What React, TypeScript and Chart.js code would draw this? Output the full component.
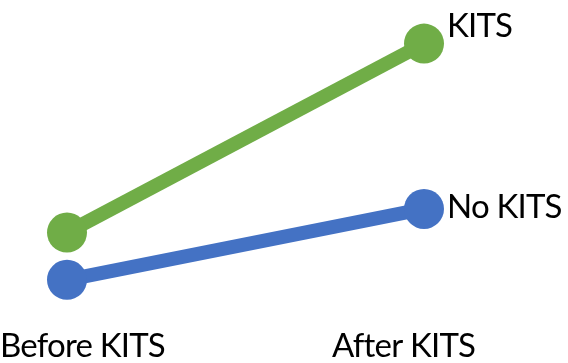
import React, { useEffect, useRef } from "react";
import { Chart, registerables } from "chart.js";

Chart.register(...registerables);

const categories = ["Before KITS", "After KITS"];
const seriesNames = ["KITS", "No KITS"];
const kitsValues = [30, 70];
const noKitsValues = [20, 35];

const FONT = "Lato, 'Open Sans', sans-serif";

const labelPlugin = {
  id: "labelPlugin",
  afterDatasetsDraw(chart: any) {
    const ctx = chart.ctx;
    const xs = chart.scales.x;
    ctx.save();
    ctx.fillStyle = "#000";
    ctx.font = `33px ${FONT}`;
    try { (ctx as any).letterSpacing = "-0.8px"; } catch (e) {}
    ctx.textBaseline = "alphabetic";
    // series end labels
    const endOffsets = [-7, 9];
    chart.data.datasets.forEach((ds: any, i: number) => {
      const meta = chart.getDatasetMeta(i);
      const last = meta.data[meta.data.length - 1];
      ctx.textAlign = "left";
      ctx.fillText(ds.label, last.x + 23, last.y + endOffsets[i]);
    });
    // category labels
    const catDx = [-67, -92];
    categories.forEach((c, i) => {
      const px = xs.getPixelForValue(i);
      ctx.textAlign = "left";
      ctx.fillText(c, px + catDx[i], chart.height - 6);
    });
    ctx.restore();
  },
};

export default function App() {
  const ref = useRef<HTMLCanvasElement | null>(null);
  useEffect(() => {
    if (!ref.current) return;
    const chart = new Chart(ref.current, {
      type: "line",
      data: {
        labels: categories,
        datasets: [
          {
            label: seriesNames[0],
            data: kitsValues,
            borderColor: "#70AD47",
            backgroundColor: "#70AD47",
            borderWidth: 14,
            pointRadius: 20,
            pointBorderWidth: 0,
            pointBackgroundColor: "#70AD47",
            clip: false as any,
          },
          {
            label: seriesNames[1],
            data: noKitsValues,
            borderColor: "#4472C4",
            backgroundColor: "#4472C4",
            borderWidth: 14,
            pointRadius: 20,
            pointBorderWidth: 0,
            pointBackgroundColor: "#4472C4",
            clip: false as any,
          },
        ],
      },
      options: {
        animation: false,
        responsive: false,
        layout: { padding: { left: 67, right: 144, top: 19, bottom: 36 } },
        plugins: { legend: { display: false }, tooltip: { enabled: false } },
        scales: {
          x: { display: false, offset: false },
          y: { display: false, min: 10, max: 75 },
        },
      },
      plugins: [labelPlugin],
    });
    return () => chart.destroy();
  }, []);
  return (
    <div style={{ position: "fixed", left: 0, top: 0, width: 568, height: 363, background: "#fff" }}>
      <canvas ref={ref} width={568} height={363} style={{ width: 568, height: 363 }} />
    </div>
  );
}
